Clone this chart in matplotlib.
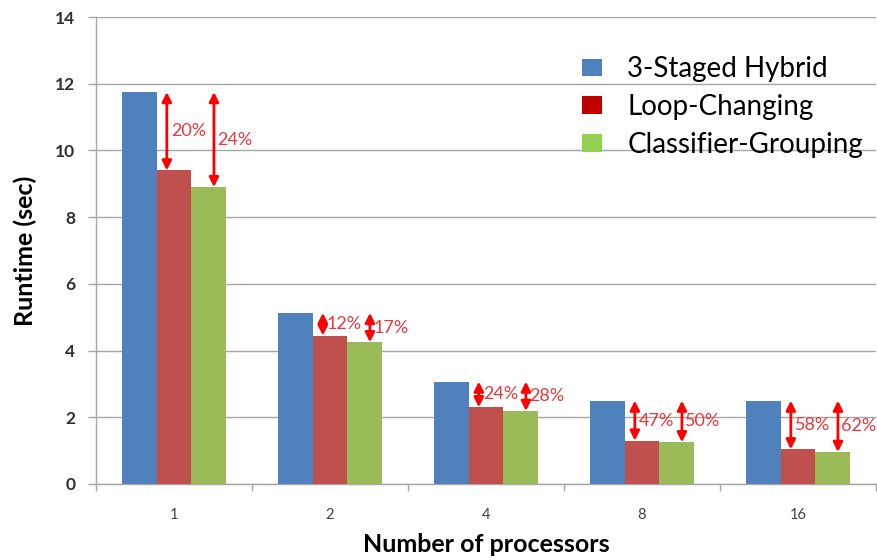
import matplotlib
matplotlib.use("Agg")
import matplotlib.pyplot as plt
import numpy as np
from matplotlib.patches import Patch

plt.rcParams['font.family'] = ['Lato', 'DejaVu Sans']

categories = ["1", "2", "4", "8", "16"]
series_names = ["3-Staged Hybrid", "Loop-Changing", "Classifier-Grouping"]
hybrid = [11.75, 5.13, 3.07, 2.50, 2.50]
loop_changing = [9.40, 4.45, 2.30, 1.30, 1.04]
classifier_grouping = [8.90, 4.25, 2.19, 1.25, 0.96]
loop_pct = ["20%", "12%", "24%", "47%", "58%"]
classifier_pct = ["24%", "17%", "28%", "50%", "62%"]

bar_colors = ["#4F81BD", "#C0504D", "#9BBB59"]
legend_colors = ["#4F81BD", "#C00000", "#92D050"]
ann_color = "#FF0000"
text_color = "#E8383D"

fig = plt.figure(figsize=(8.77, 5.60), dpi=100)
ax = fig.add_axes([96/877, 1-484/560, 780/877, 467/560])

x = np.arange(len(categories))
w = 0.222
series = [hybrid, loop_changing, classifier_grouping]
for i, (vals, c) in enumerate(zip(series, bar_colors)):
    ax.bar(x + (i - 1) * w, vals, width=w, color=c, zorder=3)

ax.set_xlim(-0.5, len(categories) - 0.5)
ax.set_ylim(0, 14)
ax.set_yticks(np.arange(0, 15, 2))
ax.yaxis.grid(True, color="#A6A6A6", linewidth=1.0, zorder=0)
ax.set_axisbelow(True)

# x ticks: labels at centers, tick marks at boundaries
ax.set_xticks(x)
ax.set_xticklabels(categories, fontsize=10.5, color="#404040")
ax.tick_params(axis='x', length=0, pad=17)
ax.set_xticks(np.arange(-0.5, len(categories) + 0.5, 1.0), minor=True)
ax.tick_params(axis='x', which='minor', length=5, color="#A6A6A6", width=1)
ax.tick_params(axis='y', length=6, color="#A6A6A6", width=1, labelsize=12.5, pad=9)
for lab in ax.get_yticklabels():
    lab.set_fontweight('bold')
    lab.set_color("#303030")

for s in ['top', 'right']:
    ax.spines[s].set_visible(False)
for s in ['left', 'bottom']:
    ax.spines[s].set_color("#A6A6A6")
    ax.spines[s].set_linewidth(1.0)

ax.set_ylabel("Runtime (sec)", fontsize=18, fontweight='bold', labelpad=13)
ax.set_xlabel("Number of processors", fontsize=18, fontweight='bold', labelpad=8)

# improvement arrows
def draw_arrow(xpos, top, bottom, label, dx_text):
    ax.annotate("", xy=(xpos, bottom), xytext=(xpos, top),
                arrowprops=dict(arrowstyle="<|-|>", color=ann_color, lw=2,
                                mutation_scale=14, shrinkA=0, shrinkB=0),
                zorder=5)
    ax.text(xpos + dx_text, (top + bottom) / 2, label, color=text_color,
            fontsize=13, ha='left', va='center', zorder=6)

for i in range(len(categories)):
    red_left = x[i] - w / 2
    green_left = x[i] + w / 2
    draw_arrow(red_left + 0.065, hybrid[i], loop_changing[i], loop_pct[i], 0.025)
    draw_arrow(green_left + 0.145, hybrid[i], classifier_grouping[i], classifier_pct[i], 0.022)

handles = [Patch(facecolor=c, edgecolor='none') for c in legend_colors]
leg = fig.legend(handles, series_names, loc='upper left', bbox_to_anchor=(560/877, 1-34/560),
                 frameon=False, fontsize=20, handlelength=0.72, handleheight=0.61,
                 handletextpad=0.9, labelspacing=0.42, borderpad=0.3)

fig.savefig("out.png", dpi=100)
